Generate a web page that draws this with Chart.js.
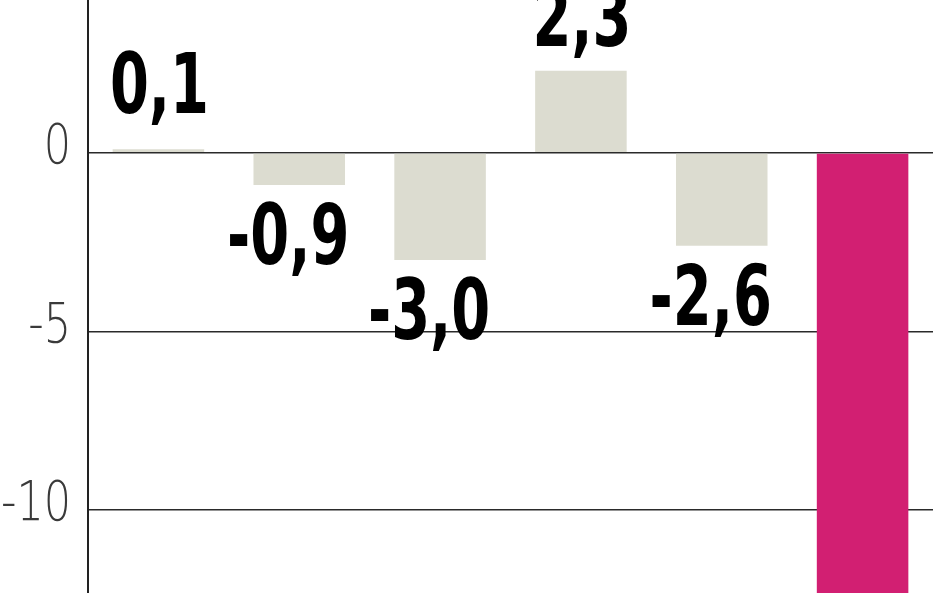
<!DOCTYPE html>
<html>
<head>
<meta charset="utf-8">
<script src="https://cdn.jsdelivr.net/npm/chart.js@4.4.1/dist/chart.umd.min.js"></script>
<style>
  html, body { margin: 0; padding: 0; background: #ffffff; }
  #wrap { width: 948px; height: 593px; position: relative; }
</style>
</head>
<body>
<div id="wrap"><canvas id="c" width="948" height="593"></canvas></div>
<script>
// Data
const categories = ['A', 'B', 'C', 'D', 'E', 'F'];
const values = [0.1, -0.9, -3.0, 2.3, -2.6, -14.0];
const barColors = ['#dcdcd0', '#dcdcd0', '#dcdcd0', '#dcdcd0', '#dcdcd0', '#d21f72'];
const yTicks = [-10, -5, 0];

const LABEL_FONT = '"DejaVu Sans Condensed", "DejaVu Sans", sans-serif';
const TICK_FONT = '"DejaVu Sans", sans-serif';

function fmt(v) {
  return (v < 0 ? '-' : '') + Math.abs(v).toFixed(1).replace('.', ',');
}

const labelPlugin = {
  id: 'barLabels',
  afterDraw(chart) {
    const ctx = chart.ctx;
    const yScale = chart.scales.y;
    const meta = chart.getDatasetMeta(0);
    const zeroY = yScale.getPixelForValue(0);

    // condensed value labels
    ctx.save();
    ctx.fillStyle = '#000000';
    ctx.font = 'bold 84px ' + LABEL_FONT;
    ctx.textAlign = 'center';
    const sx = 0.74;
    meta.data.forEach((bar, i) => {
      const v = values[i];
      const txt = fmt(v);
      let x, y;
      if (v >= 0) {
        ctx.textBaseline = 'alphabetic';
        x = bar.x + 1;
        y = Math.min(bar.y - 25, zeroY - 40);
      } else {
        ctx.textBaseline = 'top';
        x = bar.x - 11;
        y = bar.y + 15;
      }
      ctx.save();
      ctx.translate(x, y);
      ctx.scale(sx, 1);
      ctx.fillText(txt, 0, 0);
      ctx.restore();
    });
    ctx.restore();

    // thin condensed tick labels
    ctx.save();
    ctx.fillStyle = '#3a3a3a';
    ctx.font = '200 55px ' + TICK_FONT;
    ctx.textAlign = 'right';
    ctx.textBaseline = 'alphabetic';
    const tx = yScale.right - 17;
    yTicks.forEach(t => {
      const py = yScale.getPixelForValue(t);
      ctx.save();
      ctx.translate(tx, py + 10);
      ctx.scale(0.78, 1);
      ctx.fillText(String(t), 0, 0);
      ctx.restore();
    });
    ctx.restore();
  }
};

new Chart(document.getElementById('c'), {
  type: 'bar',
  data: {
    labels: categories,
    datasets: [{
      data: values,
      backgroundColor: barColors,
      borderWidth: 0,
      barPercentage: 0.65,
      categoryPercentage: 1.0
    }]
  },
  options: {
    responsive: false,
    animation: false,
    devicePixelRatio: 1,
    layout: { padding: { left: 0, right: 15, top: 0, bottom: 0 } },
    plugins: { legend: { display: false }, tooltip: { enabled: false } },
    scales: {
      x: { display: false, grid: { display: false } },
      y: {
        min: -12.32,
        max: 4.28,
        afterBuildTicks(scale) { scale.ticks = yTicks.map(v => ({ value: v })); },
        afterFit(scale) { scale.width = 88; scale.paddingTop = 0; scale.paddingBottom = 0; },
        border: { display: true, color: '#222222', width: 2 },
        grid: { color: '#2a2a2a', lineWidth: 1.6, drawTicks: false },
        ticks: { display: false }
      }
    }
  },
  plugins: [labelPlugin]
});
</script>
</body>
</html>
